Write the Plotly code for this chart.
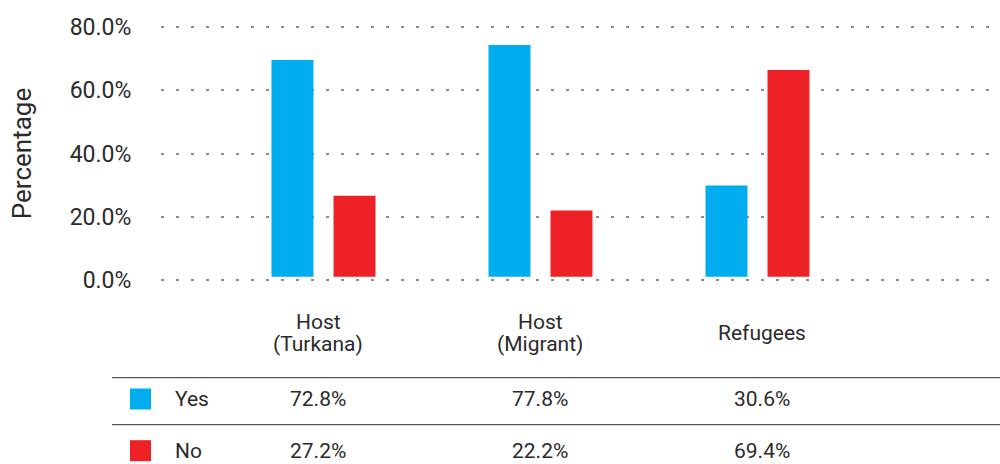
import plotly.graph_objects as go

categories = ["Host<br>(Turkana)", "Host<br>(Migrant)", "Refugees"]
series_names = ["Yes", "No"]
yes_values = [72.8, 77.8, 30.6]
no_values = [27.2, 22.2, 69.4]
colors = ["#00ADEE", "#EE2226"]
y_ticks = [0, 20, 40, 60, 80]
y_tick_labels = ["0.0%", "20.0%", "40.0%", "60.0%", "80.0%"]

W, H = 1000, 464
ML, MR, MT, MB = 161, 0, 21, 178
FONT = "Roboto"
TXT = "#2b2b2b"
COL_PX = [318, 540, 762]  # table column centres (layout)


def fx(px):
    return (px - ML) / (W - ML - MR)


def fy(py):
    return (H - MB - py) / (H - MT - MB)


fig = go.Figure()
idx = list(range(len(categories)))
# anchor trace for the gridline axis (no visible marks)
fig.add_trace(go.Scatter(x=[0], y=[None], mode="markers", showlegend=False,
                         hoverinfo="skip", xaxis="x", yaxis="y"))
for name, vals, col in zip(series_names, [yes_values, no_values], colors):
    fig.add_trace(go.Bar(x=idx, y=vals, name=name, marker_color=col,
                         marker_line_width=0, xaxis="x", yaxis="y2", showlegend=False))

fig.update_layout(
    width=W, height=H,
    margin=dict(l=ML, r=MR, t=MT, b=MB, autoexpand=False),
    paper_bgcolor="white", plot_bgcolor="white",
    barmode="group", bargap=0.4286, bargroupgap=0.323,
    font=dict(family=FONT, color=TXT),
    xaxis=dict(range=[-0.7488, 3.1175], showticklabels=False, showgrid=False,
               zeroline=False, showline=False, fixedrange=True),
    yaxis=dict(range=[-2, 82], tickvals=y_ticks, ticktext=y_tick_labels,
               tickfont=dict(size=23, family=FONT, color=TXT),
               showgrid=True, gridcolor="#8c8c8c", gridwidth=1.5,
               griddash="3px,12px", zeroline=False, showline=False,
               ticks="outside", ticklen=24, tickcolor="rgba(0,0,0,0)",
               automargin=False,
               title=dict(text="Percentage", font=dict(size=26, family=FONT, color=TXT),
                          standoff=30)),
    yaxis2=dict(range=[-3.12, 85.89], overlaying="y", side="left", showgrid=False,
                showticklabels=False, zeroline=False, showline=False, automargin=False),
)

annotations = []
shapes = []
# Header row (lines placed individually for tight line spacing)
for cx, cat in zip(COL_PX, categories):
    lines = cat.split("<br>")
    ys = [333] if len(lines) == 1 else [322, 344]
    for line, py in zip(lines, ys):
        annotations.append(dict(x=fx(cx), y=fy(py), xref="paper", yref="paper", text=line,
                                showarrow=False, font=dict(size=21, family=FONT, color=TXT),
                                xanchor="center", yanchor="middle"))
# Table lines
for py in [377.7, 424.7]:
    shapes.append(dict(type="line", xref="paper", yref="paper", x0=fx(112), x1=1,
                       y0=fy(py), y1=fy(py), line=dict(color="#555555", width=1.3)))
# Rows
row_centers = [399, 450.7]
for r, (name, vals, col) in enumerate(zip(series_names, [yes_values, no_values], colors)):
    cy = row_centers[r]
    shapes.append(dict(type="rect", xref="paper", yref="paper",
                       x0=fx(130), x1=fx(151), y0=fy(cy - 10.5), y1=fy(cy + 10.5),
                       fillcolor=col, line=dict(width=0)))
    annotations.append(dict(x=fx(173), y=fy(cy), xref="paper", yref="paper", text=name,
                            showarrow=False, font=dict(size=21, family=FONT, color=TXT),
                            xanchor="left", yanchor="middle"))
    for cx, v in zip(COL_PX, vals):
        annotations.append(dict(x=fx(cx), y=fy(cy), xref="paper", yref="paper", text=f"{v:.1f}%",
                                showarrow=False, font=dict(size=21, family=FONT, color=TXT),
                                xanchor="center", yanchor="middle"))

fig.update_layout(annotations=annotations, shapes=shapes)
fig.write_html("out.html", config={"displayModeBar": False},
               post_script="document.body.style.margin='0';document.body.style.overflow='hidden';")
